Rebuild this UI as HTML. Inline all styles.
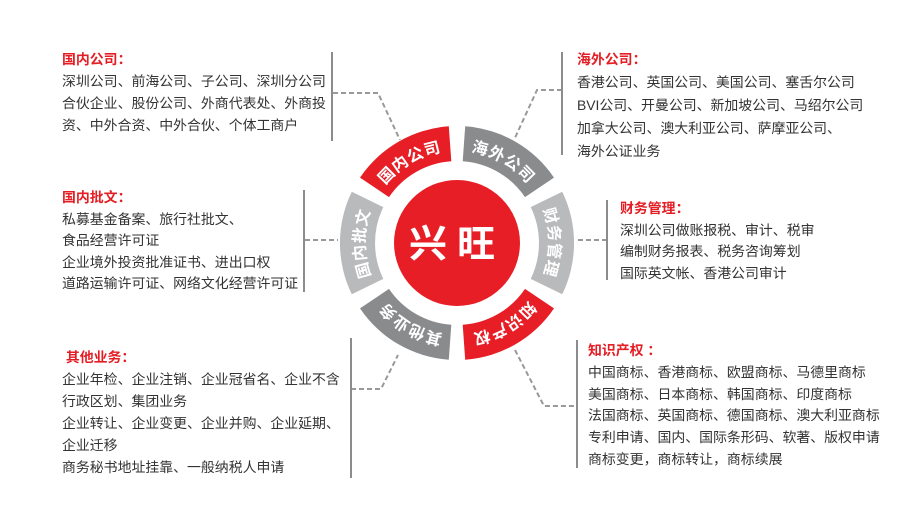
<!DOCTYPE html>
<html><head><meta charset="utf-8"><style>
body{margin:0;background:#fff;width:898px;height:521px;overflow:hidden;position:relative;font-family:"Liberation Sans","Noto Sans CJK SC",sans-serif}
.b{position:absolute;font-size:13.9px;color:#333;line-height:22px;white-space:nowrap}
.b .t{color:#e31e25;font-weight:bold}
.bar{position:absolute;width:2px;background:#8c8c8c}
svg{position:absolute;left:0;top:0}
</style></head><body>
<svg width="898" height="521">
<defs></defs>
<g fill="none" stroke="#999" stroke-width="2" stroke-dasharray="5,3">
<polyline points="333,93 378,93 400,140"/>
<polyline points="562,90 537,90 514,140"/>
<polyline points="305,240 338,240"/>
<polyline points="607,240 576,240"/>
<polyline points="351,389 381,389 398,355"/>
<polyline points="515,350 544,406 577,406"/>
</g>
<g id="ring"></g>
<circle cx="457" cy="243" r="63" fill="#e81e26"/>
<text x="457" y="257" text-anchor="middle" fill="#fff" font-size="38" font-weight="bold" font-family="Noto Sans CJK SC,sans-serif" letter-spacing="10">兴旺</text>
</svg>
<script>
(function(){
var cx=457,cy=243,R=117,r=82,tr=99,ns="http://www.w3.org/2000/svg";
var segs=[[-120,"#e81e26","国内公司"],[-60,"#8a8b8d","海外公司"],[0,"#b9babc","财务管理"],[60,"#e81e26","知识产权"],[120,"#8a8b8d","其他业务"],[180,"#b9babc","国内批文"]];
var g=document.getElementById("ring"),defs=document.querySelector("defs");
function pt(rad,a){a=a*Math.PI/180;return (cx+rad*Math.cos(a)).toFixed(1)+" "+(cy+rad*Math.sin(a)).toFixed(1);}
segs.forEach(function(s,i){
var a1=s[0]-26,a2=s[0]+26;
var p=document.createElementNS(ns,"path");
p.setAttribute("d","M "+pt(R,a1)+" A "+R+" "+R+" 0 0 1 "+pt(R,a2)+" L "+pt(r,a2)+" A "+r+" "+r+" 0 0 0 "+pt(r,a1)+" Z");
p.setAttribute("fill",s[1]);g.appendChild(p);
var tp=document.createElementNS(ns,"path");
tp.setAttribute("id","tp"+i);
tp.setAttribute("d","M "+pt(tr,a1)+" A "+tr+" "+tr+" 0 0 1 "+pt(tr,a2));
defs.appendChild(tp);
var t=document.createElementNS(ns,"text");
t.setAttribute("fill","#fff");t.setAttribute("font-size","16");t.setAttribute("font-weight","bold");
t.setAttribute("font-family","Noto Sans CJK SC,sans-serif");t.setAttribute("dominant-baseline","central");t.setAttribute("letter-spacing","2");
var x=document.createElementNS(ns,"textPath");
x.setAttribute("href","#tp"+i);x.setAttribute("startOffset","50%");x.setAttribute("text-anchor","middle");
x.textContent=s[2];t.appendChild(x);g.appendChild(t);
});
})();
</script>
<div class="bar" style="left:331px;top:52px;height:89px"></div>
<div class="b" style="left:62px;top:48px"><span class="t">国内公司：</span><br>深圳公司、前海公司、子公司、深圳分公司<br>合伙企业、股份公司、外商代表处、外商投<br>资、中外合资、中外合伙、个体工商户</div>
<div class="bar" style="left:303px;top:190px;height:102px"></div>
<div class="b" style="left:62px;top:187px;line-height:21.5px"><span class="t">国内批文：</span><br>私募基金备案、旅行社批文、<br>食品经营许可证<br>企业境外投资批准证书、进出口权<br>道路运输许可证、网络文化经营许可证</div>
<div class="bar" style="left:350px;top:338px;height:140px"></div>
<div class="b" style="left:62px;top:346px;line-height:22px"><span class="t">&nbsp;其他业务：</span><br>企业年检、企业注销、企业冠省名、企业不含<br>行政区划、集团业务<br>企业转让、企业变更、企业并购、企业延期、<br>企业迁移<br>商务秘书地址挂靠、一般纳税人申请</div>
<div class="bar" style="left:561px;top:52px;height:103px"></div>
<div class="b" style="left:577px;top:48px;line-height:23px"><span class="t">海外公司：</span><br>香港公司、英国公司、美国公司、塞舌尔公司<br>BVI公司、开曼公司、新加坡公司、马绍尔公司<br>加拿大公司、澳大利亚公司、萨摩亚公司、<br>海外公证业务</div>
<div class="bar" style="left:606px;top:200px;height:80px"></div>
<div class="b" style="left:620px;top:198px;line-height:21.5px"><span class="t">财务管理：</span><br>深圳公司做账报税、审计、税审<br>编制财务报表、税务咨询筹划<br>国际英文帐、香港公司审计</div>
<div class="bar" style="left:576px;top:340px;height:128px"></div>
<div class="b" style="left:588px;top:340px;line-height:21.8px"><span class="t">知识产权 ：</span><br>中国商标、香港商标、欧盟商标、马德里商标<br>美国商标、日本商标、韩国商标、印度商标<br>法国商标、英国商标、德国商标、澳大利亚商标<br>专利申请、国内、国际条形码、软著、版权申请<br>商标变更，商标转让，商标续展</div>
</body></html>
